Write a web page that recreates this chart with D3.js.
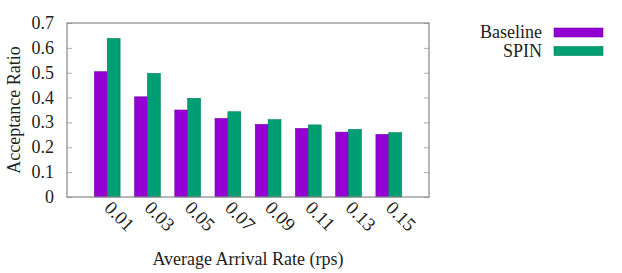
<!DOCTYPE html>
<html>
<head>
<meta charset="utf-8">
<script src="https://cdn.jsdelivr.net/npm/d3@7"></script>
<style>
  body { margin: 0; background: #fff; }
  svg text { font-family: "Liberation Serif", "Times New Roman", Times, serif; fill: #222; }
</style>
</head>
<body>
<script>
// data
var rates = ["0.01", "0.03", "0.05", "0.07", "0.09", "0.11", "0.13", "0.15"];
var baseline = [0.504, 0.403, 0.350, 0.316, 0.292, 0.276, 0.261, 0.252];
var spin = [0.638, 0.497, 0.397, 0.343, 0.311, 0.290, 0.272, 0.259];
var seriesNames = ["Baseline", "SPIN"];
var colors = ["#9400d3", "#009e73"];
var yTicks = [0, 0.1, 0.2, 0.3, 0.4, 0.5, 0.6, 0.7];

var width = 622, height = 273;
var margin = {top: 23, left: 67, right: 193, bottom: 76};
var serif = "'Liberation Serif', 'Times New Roman', serif";

var svg = d3.select("body").append("svg")
    .attr("width", width)
    .attr("height", height)
    .attr("font-family", serif);

var xScale = d3.scaleLinear()
    .domain([0, rates.length + 1])
    .range([margin.left, width - margin.right]);

var yScale = d3.scaleLinear()
    .domain([0, 0.7])
    .range([height - margin.bottom, margin.top]);

var barW = 0.32;

//Bars
var series = [baseline, spin];
series.forEach(function(vals, s) {
  svg.selectAll(".bar" + s)
    .data(vals)
    .enter().append("rect")
    .attr("x", function(d, i) { return xScale(i + 1 + (s - 1) * barW); })
    .attr("y", function(d) { return yScale(d); })
    .attr("width", xScale(barW) - xScale(0))
    .attr("height", function(d) { return yScale(0) - yScale(d); })
    .attr("fill", colors[s])
    .attr("stroke", d3.color(colors[s]).darker(0.6))
    .attr("stroke-width", 0.6);
});

//Y ticks (inward, both sides)
var yLeft = d3.axisRight(yScale).tickValues(yTicks).tickSize(5).tickFormat("");
var yRight = d3.axisLeft(yScale).tickValues(yTicks).tickSize(5).tickFormat("");
svg.append("g").attr("transform", "translate(" + margin.left + ",0)").call(yLeft);
svg.append("g").attr("transform", "translate(" + (width - margin.right) + ",0)").call(yRight);
svg.selectAll(".domain").remove();
svg.selectAll(".tick line").attr("stroke", "#999").attr("stroke-width", 0.8);

//Border
svg.append("rect")
  .attr("x", margin.left)
  .attr("y", margin.top)
  .attr("width", width - margin.right - margin.left)
  .attr("height", height - margin.bottom - margin.top)
  .attr("fill", "none")
  .attr("stroke", "#888")
  .attr("stroke-width", 1.2);

//Y tick labels
svg.selectAll(".ylab")
  .data(yTicks)
  .enter().append("text")
  .attr("x", margin.left - 13)
  .attr("y", function(d) { return yScale(d) + 6; })
  .attr("text-anchor", "end")
  .attr("font-family", serif)
  .attr("font-size", 18)
  .text(function(d) { return d === 0 ? "0" : d3.format(".1f")(d); });

//X tick labels (rotated)
svg.selectAll(".xlab")
  .data(rates)
  .enter().append("text")
  .attr("transform", function(d, i) {
    return "translate(" + (xScale(i + 1) - 4) + "," + (yScale(0) + 12) + ") rotate(45)";
  })
  .attr("font-family", serif)
  .attr("font-size", 19)
  .text(function(d) { return d; });

//Axis titles
svg.append("text")
  .attr("x", (margin.left + width - margin.right) / 2)
  .attr("y", 265)
  .attr("text-anchor", "middle")
  .attr("font-family", serif)
  .attr("font-size", 18)
  .text("Average Arrival Rate (rps)");

svg.append("text")
  .attr("transform", "translate(20," + ((margin.top + height - margin.bottom) / 2) + ") rotate(-90)")
  .attr("text-anchor", "middle")
  .attr("font-family", serif)
  .attr("font-size", 18)
  .text("Acceptance Ratio");

//Legend
var legend = svg.selectAll(".legend")
  .data(seriesNames)
  .enter().append("g");

legend.append("text")
  .attr("x", 542)
  .attr("y", function(d, i) { return 38 + i * 18.5; })
  .attr("text-anchor", "end")
  .attr("font-family", serif)
  .attr("font-size", 18)
  .text(function(d) { return d; });

legend.append("rect")
  .attr("x", 554)
  .attr("y", function(d, i) { return 28 + i * 18.5; })
  .attr("width", 49)
  .attr("height", 9)
  .attr("fill", function(d, i) { return colors[i]; })
  .attr("stroke", function(d, i) { return d3.color(colors[i]).darker(0.6); })
  .attr("stroke-width", 0.6);
</script>
</body>
</html>
